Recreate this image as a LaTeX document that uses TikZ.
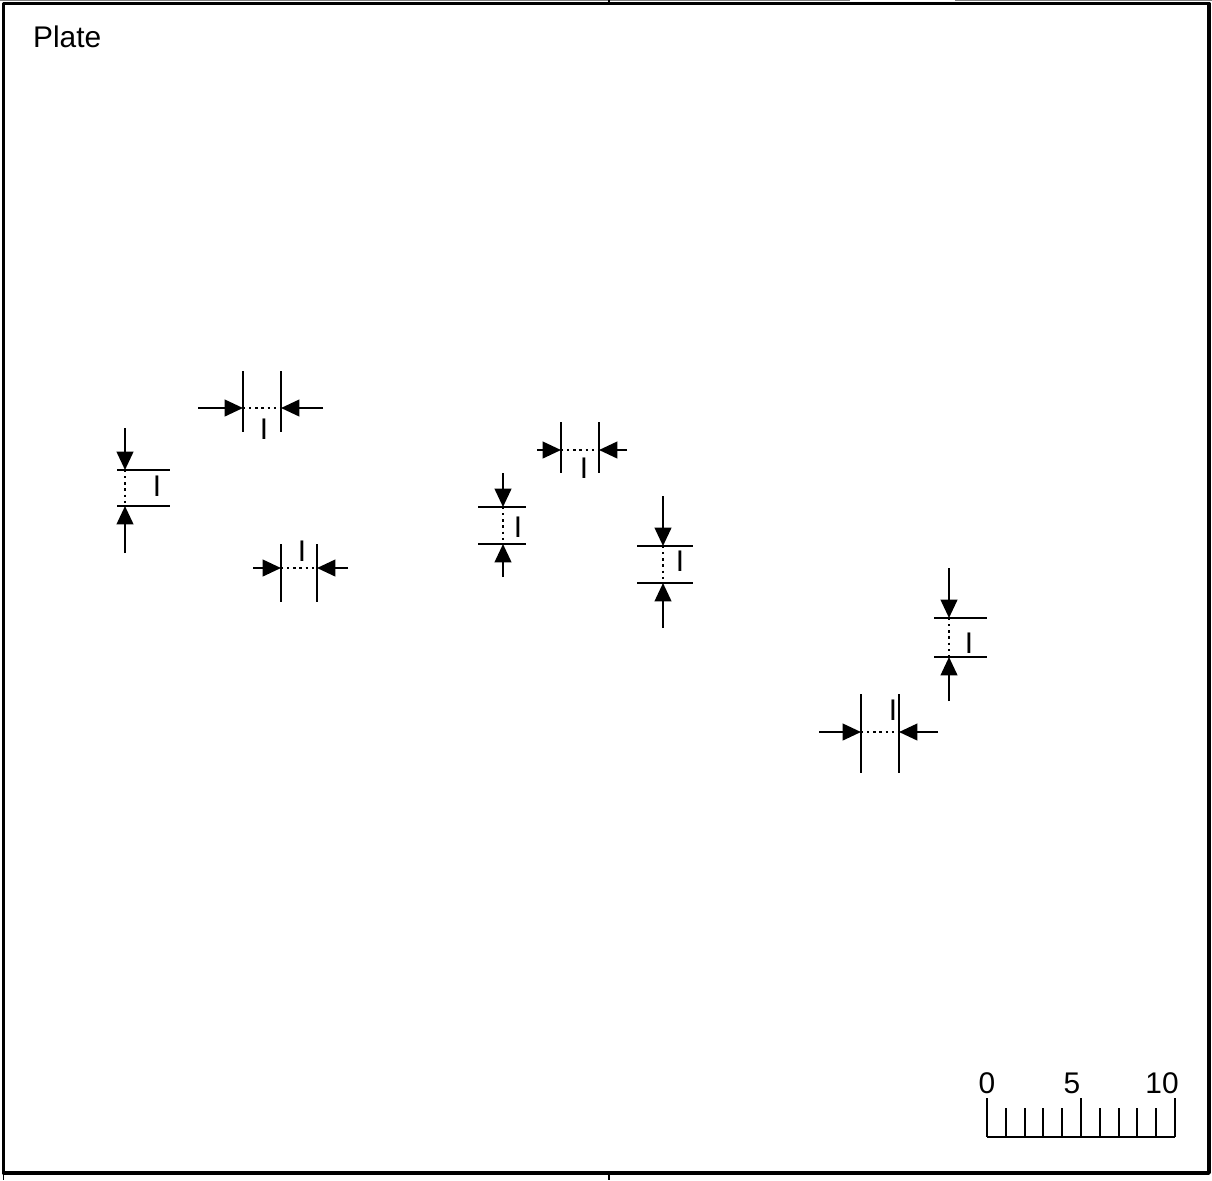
\documentclass[tikz,border=0pt]{standalone}
\usepackage{fontspec}
\setmainfont{Liberation Sans}
\usetikzlibrary{arrows.meta,calc}

\begin{document}
\begin{tikzpicture}[x=0.02cm,y=-0.02cm,line join=round,line width=1.3pt,
  dimarrow/.style={-{Triangle[length=10.5pt,width=9.5pt]}},
  gap/.style={line width=1.3pt,dash pattern=on 1.3pt off 2.2pt},
  lbl/.style={font=\fontsize{17}{20}\selectfont,inner sep=0pt}]
\useasboundingbox (0,0) rectangle (1212,1180);
\draw[gray,line width=0.6pt] (0,0.4) -- (850,0.4) (955,0.4) -- (1212,0.4);
\draw[line width=2pt] (3.5,3.5) rectangle (1209,1173);
\draw[line width=0.8pt] (609,0) -- (609,2) (3.5,1173) -- (3.5,1180) (609,1173) -- (609,1180);
\node[lbl,anchor=base west] (plate) at (32,47) {Plate};
% horizontal gaps
\foreach \y/\xl/\xr/\t/\b/\p/\q/\lx/\ly in {408/243/281/371/432/198/323/264/429,
  568/281/317/544/602/253/348/302/551, 450/561/599/422/473/537/627/584/468,
  732/861/899/694/773/819/938/893/710}{
  \coordinate (L) at (\xl,\y); \coordinate (R) at (\xr,\y);
  \coordinate (P) at (\p,\y); \coordinate (Q) at (\q,\y);
  \draw (\xl,\t) -- (\xl,\b) (\xr,\t) -- (\xr,\b);
  \draw[dimarrow] (P) -- (L);
  \draw[dimarrow] (Q) -- (R);
  \draw[gap] (L) -- (R);
  \node[lbl] at (\lx,\ly) {I};
}
% vertical gaps
\foreach \x/\yt/\yb/\l/\r/\p/\q/\lx/\ly in {125/470/506/117/170/428/553/157/486,
  503/507/544/478/526/473/577/518/527, 663/546/583/637/693/496/628/680/561,
  949/618/657/934/987/568/701/969/643}{
  \coordinate (T) at (\x,\yt); \coordinate (B) at (\x,\yb);
  \coordinate (P) at (\x,\p); \coordinate (Q) at (\x,\q);
  \draw (\l,\yt) -- (\r,\yt) (\l,\yb) -- (\r,\yb);
  \draw[dimarrow] (P) -- (T);
  \draw[dimarrow] (Q) -- (B);
  \draw[gap] (T) -- (B);
  \node[lbl] at (\lx,\ly) {I};
}
% scale bar
\draw[line width=1.1pt] (987,1137) -- (1175,1137);
\foreach \k in {1,2,3,4,6,7,8,9}{\draw[line width=1.1pt] ({987+18.8*\k},1108) -- ({987+18.8*\k},1137);}
\foreach \k in {0,5,10}{\draw[line width=1.1pt] ({987+18.8*\k},1098) -- ({987+18.8*\k},1137);}
\foreach \i/\g in {0/987,5/1072,10/1162}{\node[lbl,anchor=base] at (\g,1093) {\i};}
\end{tikzpicture}
\end{document}
